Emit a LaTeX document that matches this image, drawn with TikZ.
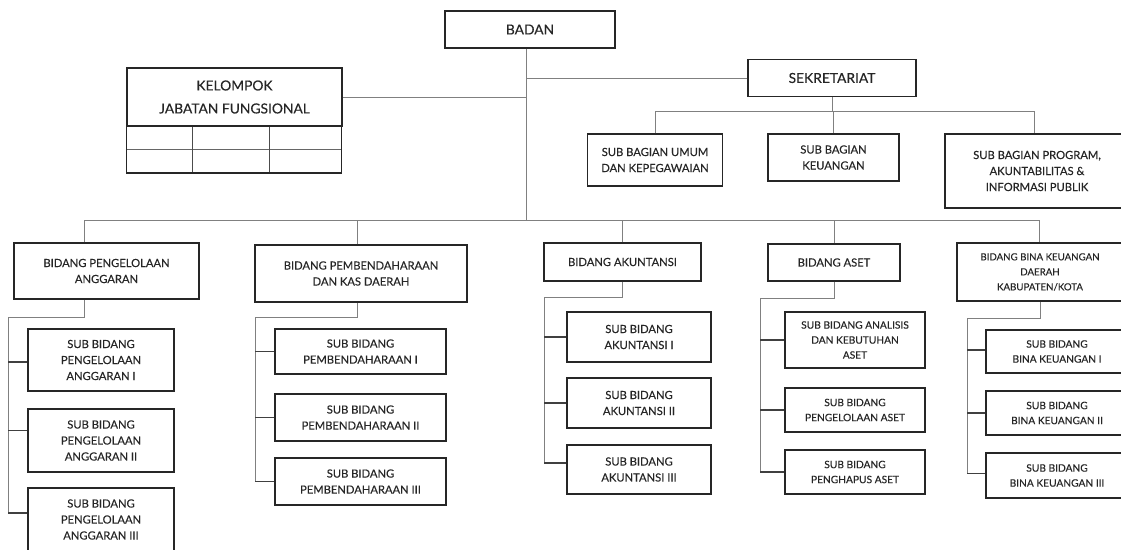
\documentclass[tikz,border=0pt]{standalone}
\usepackage{fontspec}
\setmainfont{Lato}[FakeBold=0.3]
\tikzset{
  box/.style={draw=black!85, line width=1.5pt, text=black!85, align=center, inner sep=0pt},
  big/.style={font=\fontsize{13.8}{23}\selectfont},
  mid/.style={font=\fontsize{11.2}{16}\selectfont},
  small/.style={font=\fontsize{10.2}{15}\selectfont},
  tiny/.style={font=\fontsize{9.7}{15}\selectfont},
  link/.style={draw=black!50, line width=0.9pt},
  stub/.style={draw=black!75, line width=1.1pt},
}
\begin{document}
\begin{tikzpicture}[x=1pt,y=-1pt]
    \useasboundingbox (0,0) rectangle (1121,549);
    \node[box,big,minimum width=170pt,minimum height=37pt] (badan) at (530,29.5) {BADAN};
    \node[box,big,minimum width=215pt,minimum height=58pt] (kjf) at (234.5,97) {KELOMPOK\\JABATAN FUNGSIONAL};
    \node[box,big,minimum width=168pt,minimum height=37pt] (sekretariat) at (832,78) {SEKRETARIAT};
    \node[box,mid,minimum width=135pt,minimum height=52pt] (sbumum) at (655,160) {SUB BAGIAN UMUM\\DAN KEPEGAWAIAN};
    \node[box,mid,minimum width=131pt,minimum height=47pt] (sbkeu) at (833.5,157.5) {SUB BAGIAN\\KEUANGAN};
    \node[box,mid,minimum width=184pt,minimum height=74pt] (sbprog) at (1037,171) {SUB BAGIAN PROGRAM,\\AKUNTABILITAS \&\\INFORMASI PUBLIK};
    \node[box,mid,minimum width=185pt,minimum height=56pt] (bpa) at (106.5,271) {BIDANG PENGELOLAAN\\ANGGARAN};
    \node[box,mid,minimum width=212pt,minimum height=57pt] (bpkd) at (361,273.5) {BIDANG PEMBENDAHARAAN\\DAN KAS DAERAH};
    \node[box,mid,minimum width=157pt,minimum height=38pt] (bak) at (622.5,262) {BIDANG AKUNTANSI};
    \node[box,mid,minimum width=132pt,minimum height=37pt] (bas) at (834,262.5) {BIDANG ASET};
    \node[box,tiny,minimum width=166pt,minimum height=58pt] (bbk) at (1040,272) {BIDANG BINA KEUANGAN\\DAERAH\\KABUPATEN/KOTA};
    \node[box,mid,minimum width=146pt,minimum height=62pt] (bpa1) at (101,360) {SUB BIDANG\\PENGELOLAAN\\ANGGARAN I};
    \node[box,mid,minimum width=146pt,minimum height=63pt] (bpa2) at (101,440.5) {SUB BIDANG\\PENGELOLAAN\\ANGGARAN II};
    \node[box,mid,minimum width=146pt,minimum height=63pt] (bpa3) at (101,519.5) {SUB BIDANG\\PENGELOLAAN\\ANGGARAN III};
    \node[box,mid,minimum width=171pt,minimum height=45pt] (bpkd1) at (360.5,351.5) {SUB BIDANG\\PEMBENDAHARAAN I};
    \node[box,mid,minimum width=171pt,minimum height=47pt] (bpkd2) at (360.5,417.5) {SUB BIDANG\\PEMBENDAHARAAN II};
    \node[box,mid,minimum width=171pt,minimum height=47pt] (bpkd3) at (360.5,481.5) {SUB BIDANG\\PEMBENDAHARAAN III};
    \node[box,mid,minimum width=144pt,minimum height=50pt] (bak1) at (639,337) {SUB BIDANG\\AKUNTANSI I};
    \node[box,mid,minimum width=144pt,minimum height=50pt] (bak2) at (639,403) {SUB BIDANG\\AKUNTANSI II};
    \node[box,mid,minimum width=144pt,minimum height=49pt] (bak3) at (639,469.5) {SUB BIDANG\\AKUNTANSI III};
    \node[box,small,minimum width=140pt,minimum height=56pt] (bas1) at (855,340) {SUB BIDANG ANALISIS\\DAN KEBUTUHAN\\ASET};
    \node[box,small,minimum width=140pt,minimum height=44pt] (bas2) at (855,410) {SUB BIDANG\\PENGELOLAAN ASET};
    \node[box,small,minimum width=140pt,minimum height=44pt] (bas3) at (855,472) {SUB BIDANG\\PENGHAPUS ASET};
    \node[box,small,minimum width=142pt,minimum height=43pt] (bbk1) at (1057,351.5) {SUB BIDANG\\BINA KEUANGAN I};
    \node[box,small,minimum width=142pt,minimum height=44pt] (bbk2) at (1057,413) {SUB BIDANG\\BINA KEUANGAN II};
    \node[box,small,minimum width=142pt,minimum height=45pt] (bbk3) at (1057,475.5) {SUB BIDANG\\BINA KEUANGAN III};
    \draw[black!60, line width=0.8pt] ([yshift=-23pt]kjf.south west) -- ++(215,0);
    \draw[black!70, line width=0.8pt] ([xshift=66pt]kjf.south west) -- ++(0,46);
    \draw[black!70, line width=0.8pt] ([xshift=143pt]kjf.south west) -- ++(0,46);
    \draw[black!85, line width=1.5pt] (kjf.south west) -- ++(0,46) -- ++(215,0) -- ++(0,-46);
    \coordinate (trunk) at (526,220);
    \coordinate (sekbus) at (833,111);
    \draw[link] ([xshift=-4pt]badan.south) -- (trunk);
    \draw[link] (kjf.east) -- (kjf.east -| trunk);
    \draw[link] (sekretariat.west) -- (sekretariat.west -| trunk);
    \draw[link] (sekretariat.south) -- (sekretariat.south |- sekbus);
    \draw[link] (sbumum.north) |- ([xshift=-3pt]sbprog.north |- sekbus) -- ([xshift=-3pt]sbprog.north);
    \draw[link] (sbkeu.north) -- (sbkeu.north |- sekbus);
    \draw[link] ([xshift=-22.5pt]bpa.north) |- ([xshift=-1pt]bbk.north |- trunk) -- ([xshift=-1pt]bbk.north);
    \draw[link] ([xshift=-4pt]bpkd.north) -- ([xshift=-4pt]bpkd.north |- trunk);
    \draw[link] (bak.north) -- (bak.north |- trunk);
    \draw[link] (bas.north) -- (bas.north |- trunk);
    \coordinate (bpaleft) at (8,317);
    \coordinate (bpkdleft) at (255,317);
    \coordinate (bakleft) at (544,297);
    \coordinate (basleft) at (760,298);
    \coordinate (bbkleft) at (967,318);
    \draw[link] ([xshift=-22.5pt]bpa.south) |- (bpaleft) |- ([yshift=6.5pt]bpa3.west);
    \draw[stub] ([yshift=-2pt]bpa1.west) -- ([yshift=-2pt]bpa1.west -| bpaleft);
    \draw[stub] ([yshift=10pt]bpa2.west) -- ([yshift=10pt]bpa2.west -| bpaleft);
    \draw[stub] ([yshift=6.5pt]bpa3.west) -- ([yshift=6.5pt]bpa3.west -| bpaleft);
    \draw[link] ([xshift=-4pt]bpkd.south) |- (bpkdleft) |- (bpkd3.west);
    \draw[stub] (bpkd1.west) -- (bpkd1.west -| bpkdleft);
    \draw[stub] (bpkd2.west) -- (bpkd2.west -| bpkdleft);
    \draw[stub] (bpkd3.west) -- (bpkd3.west -| bpkdleft);
    \draw[link] (bak.south) |- (bakleft) |- ([yshift=6.5pt]bak3.west);
    \draw[stub] (bak1.west) -- (bak1.west -| bakleft);
    \draw[stub] (bak2.west) -- (bak2.west -| bakleft);
    \draw[stub] ([yshift=6.5pt]bak3.west) -- ([yshift=6.5pt]bak3.west -| bakleft);
    \draw[link] (bas.south) |- (basleft) |- (bas3.west);
    \draw[stub] (bas1.west) -- (bas1.west -| basleft);
    \draw[stub] (bas2.west) -- (bas2.west -| basleft);
    \draw[stub] (bas3.west) -- (bas3.west -| basleft);
    \draw[link] (bbk.south) |- (bbkleft) |- ([yshift=2pt]bbk3.west);
    \draw[stub] ([yshift=1.5pt]bbk1.west) -- ([yshift=1.5pt]bbk1.west -| bbkleft);
    \draw[stub] (bbk2.west) -- (bbk2.west -| bbkleft);
    \draw[stub] ([yshift=2pt]bbk3.west) -- ([yshift=2pt]bbk3.west -| bbkleft);
\end{tikzpicture}
\end{document}
